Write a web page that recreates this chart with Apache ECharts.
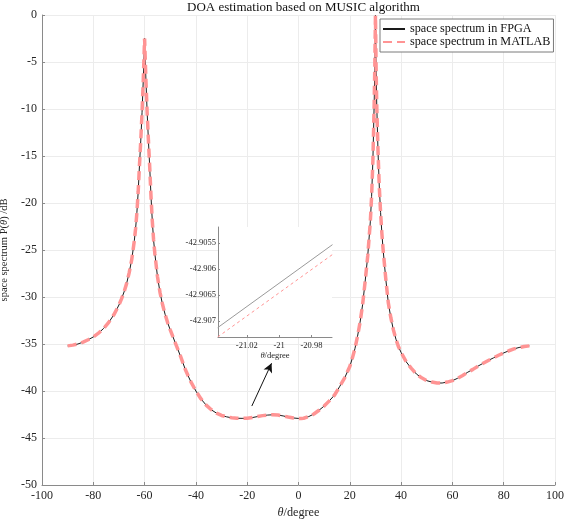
<!DOCTYPE html>
<html>
<head>
<meta charset="utf-8">
<script src="https://cdn.jsdelivr.net/npm/echarts@6/dist/echarts.min.js"></script>
<style>html,body{margin:0;padding:0;background:#fff}#c{width:564px;height:520px}</style>
</head>
<body>
<div id="c"></div>
<script>
// ---- data ----
const titleText = 'DOA estimation based on MUSIC algorithm';
const seriesNames = ['space spectrum in FPGA', 'space spectrum in MATLAB'];
const xTicks = [-100, -80, -60, -40, -20, 0, 20, 40, 60, 80, 100];
const yTicks = [-50, -45, -40, -35, -30, -25, -20, -15, -10, -5, 0];

const thetaDeg = [
  -90, -88, -86, -84, -82, -80, -78, -76, -74, -72, -70, -69, -68, -67, -66, -65, -64, -63.5, -63, -62.5,
  -62, -61.5, -61, -60.5, -60, -59.5, -59, -58.5, -58, -57.5, -57, -56.5, -56, -55, -54, -53, -52, -51, -50,
  -48, -46, -44, -42, -40, -38, -36, -34, -32, -30, -28, -26, -24, -22, -21, -20, -18, -16, -14, -12, -10,
  -8, -6, -4, -2, 0, 1, 2, 4, 6, 8, 10, 12, 14, 16, 18, 20, 21, 22, 23, 24, 25, 26, 27, 28, 28.5, 29, 29.5,
  29.75, 30, 30.25, 30.5, 31, 31.5, 32, 32.5, 33, 34, 35, 36, 37, 38, 39, 40, 42, 44, 46, 48, 50, 52, 54,
  56, 58, 60, 62, 64, 66, 68, 70, 72, 74, 76, 78, 80, 82, 84, 86, 88, 90
];
const spectrumDB = [
  -35.2, -35.12, -35.0, -34.8, -34.55, -34.25, -33.85, -33.35, -32.7, -31.9, -30.85, -30.2, -29.45, -28.55, -27.4, -26.0, -24.0, -22.7, -21.0, -18.8,
  -16.0, -13.4, -10.4, -6.8, -2.5, -6.8, -10.4, -13.4, -16.2, -19.3, -21.9, -23.9, -25.4, -27.8, -29.5, -30.8, -31.85, -32.75, -33.5,
  -34.9, -36.3, -37.8, -39.0, -40.0, -40.85, -41.5, -42.0, -42.35, -42.6, -42.75, -42.85, -42.9, -42.91, -42.906, -42.9, -42.83, -42.72, -42.62, -42.56, -42.53,
  -42.56, -42.65, -42.77, -42.87, -42.92, -42.93, -42.9, -42.72, -42.45, -42.05, -41.6, -41.05, -40.45, -39.55, -38.6, -37.4, -36.5, -35.5, -34.2, -32.7, -30.8, -28.3, -25.6, -22.0, -19.3, -15.5, -9.5,
  -5.5, -0.05, -5.5, -9.5, -14.5, -18.3, -21.0, -23.2, -25.0, -28.0, -30.6, -32.2, -33.5, -34.5, -35.3, -35.9, -36.9, -37.6, -38.2, -38.6, -38.9, -39.05, -39.15,
  -39.15, -39.05, -38.9, -38.65, -38.35, -38.0, -37.7, -37.35, -37.05, -36.75, -36.48, -36.2, -35.95, -35.72, -35.52, -35.37, -35.27, -35.2
];

// zoomed inset (around theta = -21 deg)
const insetTheta = [-21.038, -20.967];
const insetFPGA = [-42.90713, -42.90553];
const insetMATLAB = [-42.90731, -42.90572];
const insetXTicks = [-21.02, -21, -20.98];
const insetYTicks = [-42.907, -42.9065, -42.906, -42.9055];
const insetXRange = [-21.0378, -20.9673];
const insetYRange = [-42.90731, -42.90519];

// arrow pointing from the curve region up to the inset (data coords)
const arrowFrom = [-18.2, -41.6];
const arrowTo = [-10.5, -37.05];

// ---- chart ----
const FONT = '"Liberation Serif", "Times New Roman", serif';
const AX = '#8a8a8a';
const TXT = '#262626';
const PINK = '#ff9494';

const mainPairs = thetaDeg.map((d, i) => [d, spectrumDB[i]]);
const insetF = insetTheta.map((d, i) => [d, insetFPGA[i]]);
const insetM = insetTheta.map((d, i) => [d, insetMATLAB[i]]);

const chart = echarts.init(document.getElementById('c'), null, {renderer: 'canvas'});
chart.setOption({
  animation: false,
  backgroundColor: '#fff',
  title: {
    text: titleText, left: 187, top: 1, padding: 0,
    textStyle: {fontFamily: FONT, fontSize: 13, fontWeight: 'normal', color: '#111'}
  },
  legend: {
    data: seriesNames,
    orient: 'vertical', left: 380, top: 19,
    padding: [4, 3, 4, 2], itemGap: 1, itemWidth: 22, itemHeight: 10,
    backgroundColor: '#fff', borderColor: '#7a7a7a', borderWidth: 1, borderRadius: 0,
    itemStyle: {opacity: 0},
    textStyle: {fontFamily: FONT, fontSize: 12.2, color: '#111'}
  },
  grid: [
    {left: 42, right: 9, top: 15, bottom: 35, containLabel: false, outerBoundsMode: 'none'},
    {left: 218, top: 227, width: 114, height: 110, show: true, backgroundColor: '#fff', borderWidth: 0, z: 5, outerBoundsMode: 'none'}
  ],
  xAxis: [
    {
      type: 'value', gridIndex: 0, min: -100, max: 100, interval: 20,
      name: '{it|θ}/degree', nameLocation: 'middle', nameGap: 19,
      nameTextStyle: {fontFamily: FONT, fontSize: 12.2, color: TXT, rich: {it: {fontStyle: 'italic', fontFamily: FONT, fontSize: 12.2, color: TXT}}},
      axisLine: {show: true, onZero: false, lineStyle: {color: AX, width: 1}},
      axisTick: {show: true, inside: true, length: 3, lineStyle: {color: AX}},
      axisLabel: {fontFamily: FONT, fontSize: 12, color: TXT, margin: 5},
      splitLine: {show: true, lineStyle: {color: '#ececec', width: 1}}
    },
    {
      type: 'value', gridIndex: 1, min: insetXRange[0], max: insetXRange[1], z: 6,
      name: '{it|θ}/degree', nameLocation: 'middle', nameGap: 12,
      nameTextStyle: {fontFamily: FONT, fontSize: 8.5, color: TXT, rich: {it: {fontStyle: 'italic', fontFamily: FONT, fontSize: 8.5, color: TXT}}},
      axisLine: {show: true, onZero: false, lineStyle: {color: AX, width: 1}},
      axisTick: {show: true, inside: true, length: 2, customValues: insetXTicks, lineStyle: {color: AX}},
      axisLabel: {fontFamily: FONT, fontSize: 8.5, color: TXT, margin: 4, customValues: insetXTicks, formatter: v => String(v)},
      splitLine: {show: false}
    }
  ],
  yAxis: [
    {
      type: 'value', gridIndex: 0, min: -50, max: 0, interval: 5,
      name: 'space spectrum P({it|θ}) /dB', nameLocation: 'middle', nameGap: 22,
      nameTextStyle: {fontFamily: FONT, fontSize: 10.5, color: TXT, rich: {it: {fontStyle: 'italic', fontFamily: FONT, fontSize: 10.5, color: TXT}}},
      axisLine: {show: true, onZero: false, lineStyle: {color: AX, width: 1}},
      axisTick: {show: true, inside: true, length: 3, lineStyle: {color: AX}},
      axisLabel: {fontFamily: FONT, fontSize: 12, color: TXT, margin: 5},
      splitLine: {show: true, lineStyle: {color: '#ececec', width: 1}}
    },
    {
      type: 'value', gridIndex: 1, min: insetYRange[0], max: insetYRange[1], z: 6,
      axisLine: {show: true, onZero: false, lineStyle: {color: AX, width: 1}},
      axisTick: {show: true, inside: true, length: 2, customValues: insetYTicks, lineStyle: {color: AX}},
      axisLabel: {fontFamily: FONT, fontSize: 8.5, color: TXT, margin: 2, customValues: insetYTicks, formatter: v => String(v)},
      splitLine: {show: false}
    }
  ],
  series: [
    {
      name: seriesNames[0], type: 'line', xAxisIndex: 0, yAxisIndex: 0,
      data: mainPairs, symbol: 'none', smooth: false, z: 2,
      lineStyle: {color: '#1a1a1a', width: 1},
      itemStyle: {color: '#1a1a1a'},
      markLine: {
        silent: true, symbol: ['none', 'arrow'], symbolSize: [7, 9],
        label: {show: false},
        lineStyle: {color: '#111', width: 1, type: 'solid'},
        data: [[{coord: arrowFrom}, {coord: arrowTo}]]
      }
    },
    {
      name: seriesNames[1], type: 'line', xAxisIndex: 0, yAxisIndex: 0,
      data: mainPairs, symbol: 'none', smooth: false, z: 3,
      lineStyle: {color: PINK, width: 3.5, type: [9, 5]},
      itemStyle: {color: PINK}
    },
    {
      name: 'insetFPGA', type: 'line', xAxisIndex: 1, yAxisIndex: 1,
      data: insetF, symbol: 'none', z: 7, clip: true,
      lineStyle: {color: '#9a9a9a', width: 1}
    },
    {
      name: 'insetMATLAB', type: 'line', xAxisIndex: 1, yAxisIndex: 1,
      data: insetM, symbol: 'none', z: 7, clip: true,
      lineStyle: {color: PINK, width: 1, type: [3, 3]}
    }
  ]
});
</script>
</body>
</html>
